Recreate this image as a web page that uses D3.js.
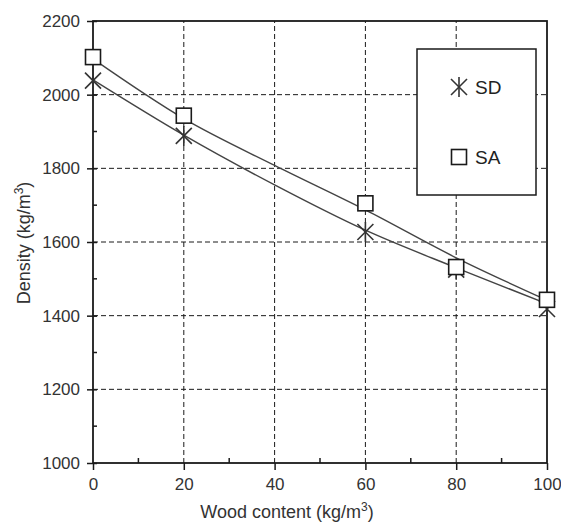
<!DOCTYPE html>
<html><head><meta charset="utf-8">
<script src="https://cdn.jsdelivr.net/npm/d3@7"></script>
<style>body{margin:0;background:#fff}svg{display:block;font-family:"Liberation Sans",Arial,sans-serif}</style>
</head><body>
<svg id="c" width="561" height="525"></svg>
<script>
const xValues = [0, 20, 60, 80, 100];
const sdValues = [2038, 1888, 1627, 1525, 1418];
const saValues = [2102, 1943, 1705, 1532, 1443];
const fitX = [0, 20, 40, 60, 80, 100];
const sdFit = [2040, 1890, 1755, 1632, 1530, 1432];
const saFit = [2097, 1935, 1808, 1687, 1557, 1442];
const xTicks = [0, 20, 40, 60, 80, 100];
const yTicks = [1000, 1200, 1400, 1600, 1800, 2000, 2200];
const seriesNames = ["SD", "SA"];

const svg = d3.select("#c");
const L = 93, R = 547, T = 21, B = 463;
const x = d3.scaleLinear().domain([0, 100]).range([L, R]);
const y = d3.scaleLinear().domain([1000, 2200]).range([B, T]);
const ink = "#1a1a1a";

// grid
const g = svg.append("g").attr("stroke", ink).attr("stroke-width", 1).attr("stroke-dasharray", "5,3");
xTicks.filter(v => v > 0 && v < 100).forEach(v => g.append("line").attr("x1", x(v)).attr("x2", x(v)).attr("y1", B).attr("y2", T));
yTicks.filter(v => v > 1000 && v < 2200).forEach(v => g.append("line").attr("x1", L).attr("x2", R).attr("y1", y(v)).attr("y2", y(v)));

// legend box (drawn over grid)
const lg = svg.append("g");
lg.append("rect").attr("x", 417).attr("y", 49).attr("width", 119).attr("height", 146)
  .attr("fill", "#fff").attr("stroke", ink).attr("stroke-width", 1.5);

// axes
const yAxis = d3.axisLeft(y).tickValues(yTicks).tickFormat(d3.format("d")).tickSize(6).tickPadding(7);
const ya = svg.append("g").attr("transform", `translate(${L},0)`).call(yAxis);
const xAxis = d3.axisBottom(x).tickValues(xTicks).tickFormat(d3.format("d")).tickSize(7).tickPadding(8);
const xa = svg.append("g").attr("transform", `translate(0,${B})`).call(xAxis);
[ya, xa].forEach(a => {
  a.select(".domain").remove();
  a.selectAll("line").attr("stroke", ink).attr("stroke-width", 1.5);
  a.selectAll("text").attr("fill", "#333").attr("font-size", 17).attr("font-family", "Liberation Sans, Arial, sans-serif");
});
ya.selectAll(".tick").append("line").attr("x2", 4).attr("stroke", ink).attr("stroke-width", 1.5);
// minor ticks
const minorY = d3.range(1100, 2200, 200);
svg.append("g").selectAll("line").data(minorY).join("line")
  .attr("x1", L).attr("x2", L + 4).attr("y1", d => y(d)).attr("y2", d => y(d)).attr("stroke", ink).attr("stroke-width", 1.5);
const minorX = d3.range(10, 100, 20);
svg.append("g").selectAll("line").data(minorX).join("line")
  .attr("x1", d => x(d)).attr("x2", d => x(d)).attr("y1", B).attr("y2", B - 5).attr("stroke", ink).attr("stroke-width", 1.5);

// frame
svg.append("rect").attr("x", L).attr("y", T).attr("width", R - L).attr("height", B - T)
  .attr("fill", "none").attr("stroke", ink).attr("stroke-width", 1.8);

// fit lines
const line = d3.line().x(d => x(d[0])).y(d => y(d[1])).curve(d3.curveMonotoneX);
[sdFit, saFit].forEach(f => {
  svg.append("path").datum(fitX.map((v, i) => [v, f[i]])).attr("d", line)
    .attr("fill", "none").attr("stroke", "#444").attr("stroke-width", 1.4);
});

// markers
function star(sel, cx, cy) {
  const gg = sel.append("g").attr("stroke", "#333").attr("stroke-width", 1.6);
  gg.append("line").attr("x1", cx - 8).attr("y1", cy - 8).attr("x2", cx + 8).attr("y2", cy + 8);
  gg.append("line").attr("x1", cx - 8).attr("y1", cy + 8).attr("x2", cx + 8).attr("y2", cy - 8);
  gg.append("line").attr("x1", cx).attr("y1", cy - 10).attr("x2", cx).attr("y2", cy + 10);
}
function square(sel, cx, cy) {
  sel.append("rect").attr("x", cx - 7.5).attr("y", cy - 7.5).attr("width", 15).attr("height", 15)
    .attr("fill", "#fff").attr("stroke", ink).attr("stroke-width", 1.6);
}
xValues.forEach((v, i) => star(svg, x(v), y(sdValues[i])));
xValues.forEach((v, i) => square(svg, x(v), y(saValues[i])));

// legend contents
star(lg, 459, 87);
square(lg, 459, 157);
lg.append("text").attr("x", 475).attr("y", 94).attr("font-size", 19).attr("fill", "#222").text(seriesNames[0]);
lg.append("text").attr("x", 475).attr("y", 164).attr("font-size", 19).attr("fill", "#222").text(seriesNames[1]);

// axis titles
const xt = svg.append("text").attr("x", 287).attr("y", 518).attr("text-anchor", "middle").attr("font-size", 18).attr("fill", "#333");
xt.append("tspan").text("Wood content (kg/m");
xt.append("tspan").attr("font-size", 12).attr("dy", -7).text("3");
xt.append("tspan").attr("dy", 7).text(")");
const yt = svg.append("text").attr("transform", "translate(30,243) rotate(-90)").attr("text-anchor", "middle").attr("font-size", 18).attr("fill", "#333");
yt.append("tspan").text("Density (kg/m");
yt.append("tspan").attr("font-size", 12).attr("dy", -7).text("3");
yt.append("tspan").attr("dy", 7).text(")");
</script>
</body></html>
